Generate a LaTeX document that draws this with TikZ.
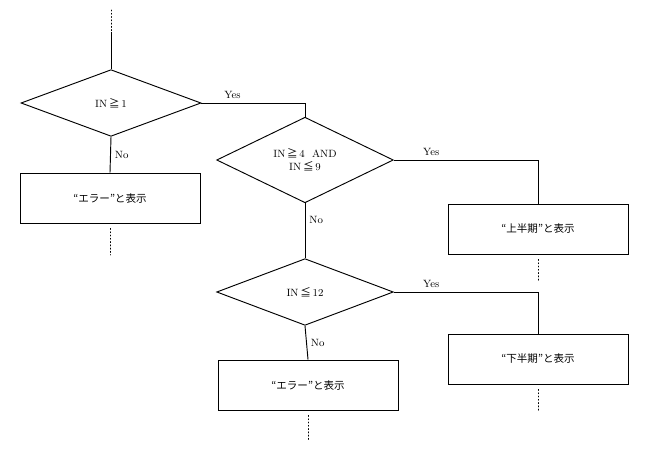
\documentclass[tikz,border=0pt]{standalone}
\usepackage{fontspec}
\newfontfamily\cjk{Noto Sans CJK JP}
\usetikzlibrary{shapes.geometric,positioning}
\tikzset{
  dec/.style={draw, thick, shape=diamond, inner sep=0pt, minimum width=5.3cm, minimum height=2cm, align=center, font=\small},
  proc/.style={draw, thick, minimum width=5.4cm, minimum height=1.5cm, font=\small},
  lbl/.style={font=\small},
  dots/.style={thick, dotted, line cap=round},
}
\begin{document}
\begin{tikzpicture}[x=0.03cm, y=-0.03cm]
    \useasboundingbox (0,0) rectangle (653,455);
    % Decisions
    \node[dec, minimum width=5.4cm] (d1) at (111,103) {IN\,{\cjk ≧}\,1};
    \node[dec] (d2) at (305,160) {IN\,{\cjk ≧}\,4\ \ AND\\IN\,{\cjk ≦}\,9};
    \node[dec] (d3) at (305,292) {IN\,{\cjk ≦}\,12};
    % Processes
    \node[proc] (p1) at (110,198) {\cjk “エラー”と表示};
    \node[proc] (p2) at (538,229) {\cjk “上半期”と表示};
    \node[proc] (p3) at (538,359) {\cjk “下半期”と表示};
    \node[proc] (p4) at (308,385) {\cjk “エラー”と表示};
    % Free ends
    \coordinate (top0) at (111,10);
    \coordinate (top1) at (111,32);
    \coordinate (e1) at (110,255);
    \coordinate (e2) at (538,282);
    \coordinate (e3) at (538,412);
    \coordinate (e4) at (308,440);
    % Flow
    \draw[dots] (top0) -- (top1);
    \draw[thick] (top1) -- (d1.north);
    \draw[thick] (d1.east) -| (d2.north) node[lbl, pos=0.15, above] {Yes};
    \draw[thick] (d1.south) -- (p1.north) node[lbl, midway, right] {No};
    \draw[thick] (d2.east) -| (p2.north) node[lbl, pos=0.13, above] {Yes};
    \draw[thick] (d2.south) -- (d3.north) node[lbl, pos=0.3, right] {No};
    \draw[thick] (d3.east) -| (p3.north) node[lbl, pos=0.13, above] {Yes};
    \draw[thick] (d3.south) -- (p4.north) node[lbl, midway, right] {No};
    \draw[dots] ([yshift=-0.15cm]p1.south) -- (e1);
    \draw[dots] ([yshift=-0.15cm]p2.south) -- (e2);
    \draw[dots] ([yshift=-0.15cm]p3.south) -- (e3);
    \draw[dots] ([yshift=-0.15cm]p4.south) -- (e4);
\end{tikzpicture}
\end{document}
